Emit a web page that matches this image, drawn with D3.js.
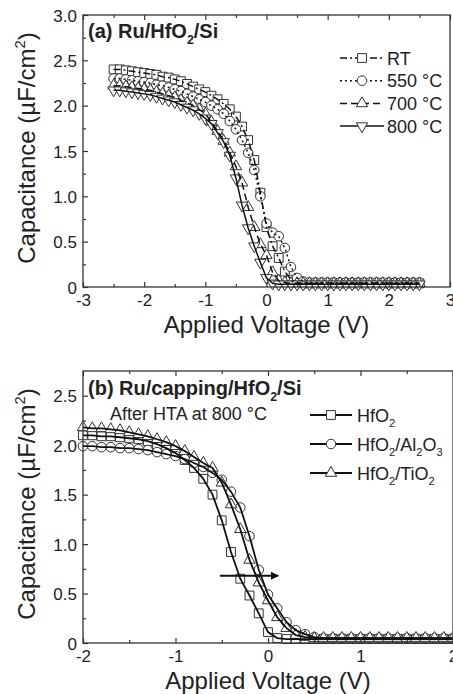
<!DOCTYPE html>
<html>
<head>
<meta charset="utf-8">
<script src="https://cdn.jsdelivr.net/npm/d3@7"></script>
<style>
  body { margin: 0; background: #fff; }
  svg text { font-family: 'Liberation Sans', Arial, sans-serif; fill: #222; }
</style>
</head>
<body>
<div id="chart"></div>
<script>
// ---- data ----
var topV = [-2.5, -2.4, -2.3, -2.2, -2.1, -2.0, -1.9, -1.8, -1.7, -1.6, -1.5, -1.4, -1.3, -1.2, -1.1, -1.0,
    -0.9, -0.8, -0.7, -0.6, -0.5, -0.4, -0.3, -0.2, -0.1, 0.0, 0.1, 0.2, 0.3, 0.4, 0.5,
    0.6, 0.7, 0.8, 0.9, 1.0, 1.1, 1.2, 1.3, 1.4, 1.5, 1.6, 1.7, 1.8, 1.9, 2.0, 2.1, 2.2, 2.3, 2.4, 2.5];
var capRT = [2.40, 2.40, 2.39, 2.38, 2.37, 2.36, 2.35, 2.34, 2.32, 2.31, 2.29, 2.27, 2.24, 2.21, 2.18, 2.15,
    2.11, 2.07, 2.02, 1.96, 1.88, 1.77, 1.62, 1.40, 1.04, 0.66, 0.45, 0.32, 0.17, 0.08, 0.05,
    0.04, 0.04, 0.04, 0.04, 0.04, 0.04, 0.04, 0.04, 0.04, 0.04, 0.04, 0.04, 0.04, 0.04, 0.04, 0.04, 0.04, 0.04, 0.04, 0.04];
var cap550 = [2.30, 2.30, 2.29, 2.28, 2.27, 2.26, 2.25, 2.23, 2.22, 2.20, 2.18, 2.16, 2.13, 2.10, 2.07, 2.04,
    2.00, 1.96, 1.91, 1.83, 1.74, 1.62, 1.48, 1.29, 1.00, 0.70, 0.60, 0.56, 0.43, 0.22, 0.10,
    0.06, 0.05, 0.05, 0.05, 0.05, 0.05, 0.05, 0.05, 0.05, 0.05, 0.05, 0.05, 0.05, 0.05, 0.05, 0.05, 0.05, 0.05, 0.05, 0.05];
var cap700 = [2.22, 2.22, 2.21, 2.20, 2.19, 2.18, 2.17, 2.15, 2.13, 2.11, 2.09, 2.06, 2.03, 2.00, 1.96, 1.91,
    1.82, 1.72, 1.61, 1.48, 1.33, 1.15, 0.88, 0.66, 0.47, 0.35, 0.16, 0.07, 0.05, 0.04, 0.04,
    0.04, 0.04, 0.04, 0.04, 0.04, 0.04, 0.04, 0.04, 0.04, 0.04, 0.04, 0.04, 0.04, 0.04, 0.04, 0.04, 0.04, 0.04, 0.04, 0.04];
var cap800 = [2.17, 2.17, 2.16, 2.15, 2.14, 2.13, 2.12, 2.10, 2.08, 2.06, 2.04, 2.01, 1.98, 1.95, 1.91, 1.86,
    1.80, 1.70, 1.60, 1.45, 1.20, 0.90, 0.65, 0.45, 0.27, 0.10, 0.04, 0.03, 0.03, 0.03, 0.03,
    0.03, 0.03, 0.03, 0.03, 0.03, 0.03, 0.03, 0.03, 0.03, 0.03, 0.03, 0.03, 0.03, 0.03, 0.03, 0.03, 0.03, 0.03, 0.03, 0.03];

var botV = [-2.0, -1.9, -1.8, -1.7, -1.6, -1.5, -1.4, -1.3, -1.2, -1.1, -1.0, -0.9, -0.8, -0.7, -0.6, -0.5,
    -0.4, -0.3, -0.2, -0.1, 0.0, 0.1, 0.2, 0.3, 0.4, 0.5, 0.6, 0.7, 0.8, 0.9, 1.0,
    1.1, 1.2, 1.3, 1.4, 1.5, 1.6, 1.7, 1.8, 1.9, 2.0];
var capHfO2 = [2.10, 2.10, 2.09, 2.09, 2.08, 2.07, 2.06, 2.04, 2.01, 1.97, 1.92, 1.85, 1.77, 1.66, 1.50, 1.24,
    0.92, 0.65, 0.48, 0.30, 0.11, 0.05, 0.04, 0.04, 0.04, 0.04, 0.04, 0.04, 0.04, 0.04, 0.04,
    0.04, 0.04, 0.04, 0.04, 0.04, 0.04, 0.04, 0.04, 0.04, 0.04];
var capAl2O3 = [1.99, 1.99, 1.98, 1.98, 1.97, 1.97, 1.96, 1.95, 1.93, 1.91, 1.89, 1.86, 1.82, 1.78, 1.72, 1.65,
    1.53, 1.37, 1.08, 0.74, 0.49, 0.35, 0.21, 0.13, 0.09, 0.06, 0.05, 0.05, 0.05, 0.05, 0.05,
    0.05, 0.05, 0.05, 0.05, 0.05, 0.05, 0.05, 0.05, 0.05, 0.05];
var capTiO2 = [2.18, 2.17, 2.17, 2.16, 2.15, 2.13, 2.11, 2.09, 2.06, 2.03, 1.99, 1.94, 1.88, 1.82, 1.77, 1.62,
    1.40, 1.15, 0.84, 0.61, 0.43, 0.26, 0.15, 0.08, 0.06, 0.05, 0.05, 0.05, 0.05, 0.05, 0.05,
    0.05, 0.05, 0.05, 0.05, 0.05, 0.05, 0.05, 0.05, 0.05, 0.05];

var topXTicks = [-3, -2, -1, 0, 1, 2, 3];
var topYTicks = [0, 0.5, 1.0, 1.5, 2.0, 2.5, 3.0];
var botXTicks = [-2, -1, 0, 1, 2];
var botYTicks = [0, 0.5, 1.0, 1.5, 2.0, 2.5];
var shiftArrowV = [-0.52, 0.11];
var shiftArrowC = 0.68;

var width = 453, height = 694;

var svg = d3.select("#chart")
    .append("svg")
    .attr("width", width)
    .attr("height", height);

// text with sub/superscripts
function richText(g, x, y, parts, size, weight, anchor) {
    var t = g.append("text")
        .attr("x", x).attr("y", y)
        .style("font-size", size + "px")
        .style("font-weight", weight || "normal")
        .attr("text-anchor", anchor || "start");
    var shift = 0;
    parts.forEach(function (p) {
        var s = p[0], kind = p[1] || "n";
        var target = kind === "sub" ? size * 0.3 : kind === "sup" ? -size * 0.42 : 0;
        t.append("tspan")
            .attr("dy", target - shift)
            .style("font-size", (kind === "n" ? size : size * 0.62) + "px")
            .text(s);
        shift = target;
    });
    return t;
}

function markerPath(type) {
    if (type === "square") return d3.symbol(d3.symbolSquare, 78)();
    if (type === "circle") return d3.symbol(d3.symbolCircle, 72)();
    return d3.symbol(d3.symbolTriangle, 56)();
}

function drawMarker(g, type, x, y) {
    g.append("path")
        .attr("d", markerPath(type))
        .attr("transform", "translate(" + x + "," + y + ")" + (type === "down" ? " rotate(180)" : ""))
        .attr("fill", "#fff")
        .attr("stroke", "#333")
        .attr("stroke-width", 1);
}

function drawPanel(cfg) {
    var x = d3.scaleLinear().domain(cfg.xDomain).range([83, cfg.right]);
    var y = d3.scaleLinear().domain(cfg.yDomain).range([cfg.bottom, cfg.top]);
    var g = svg.append("g");
    var fmtX = function (d) { return String(d); };
    var fmtY = function (d) { return d === 0 ? "0" : d3.format(".1f")(d); };

    // series: markers, then lines over them
    cfg.series.forEach(function (s) {
        var mg = g.append("g");
        s.values.forEach(function (c, i) {
            drawMarker(mg, s.marker, x(cfg.v[i]), y(c));
        });
    });
    cfg.series.forEach(function (s) {
        var line = d3.line()
            .x(function (d, i) { return x(cfg.v[i]); })
            .y(function (d) { return y(d); });
        g.append("path")
            .datum(s.values)
            .attr("d", line)
            .attr("fill", "none")
            .attr("stroke", "#111")
            .attr("stroke-width", cfg.lineWidth)
            .attr("stroke-dasharray", s.dash || null);
    });

    // frame
    g.append("rect")
        .attr("x", x.range()[0]).attr("y", cfg.top)
        .attr("width", x.range()[1] - x.range()[0])
        .attr("height", cfg.bottom - cfg.top)
        .attr("fill", "none")
        .attr("stroke", "#333")
        .attr("stroke-width", 1.3);

    // axes with inward ticks
    var xAx = g.append("g").attr("transform", "translate(0," + cfg.bottom + ")")
        .call(d3.axisBottom(x).tickValues(cfg.xTicks).tickSizeInner(-5).tickSizeOuter(0).tickPadding(7).tickFormat(fmtX));
    var xMinor = g.append("g").attr("transform", "translate(0," + cfg.bottom + ")")
        .call(d3.axisBottom(x).tickValues(cfg.xMinor).tickSizeInner(-3).tickSizeOuter(0).tickFormat(""));
    var xTop = g.append("g").attr("transform", "translate(0," + cfg.top + ")")
        .call(d3.axisTop(x).tickValues(cfg.xTicks).tickSizeInner(-5).tickSizeOuter(0).tickFormat(""));
    var xTopMinor = g.append("g").attr("transform", "translate(0," + cfg.top + ")")
        .call(d3.axisTop(x).tickValues(cfg.xMinor).tickSizeInner(-3).tickSizeOuter(0).tickFormat(""));
    var yAx = g.append("g").attr("transform", "translate(83,0)")
        .call(d3.axisLeft(y).tickValues(cfg.yTicks).tickSizeInner(-5).tickSizeOuter(0).tickPadding(6).tickFormat(fmtY));
    var yMinor = g.append("g").attr("transform", "translate(83,0)")
        .call(d3.axisLeft(y).tickValues(cfg.yMinor).tickSizeInner(-3).tickSizeOuter(0).tickFormat(""));

    [xAx, xMinor, xTop, xTopMinor, yAx, yMinor].forEach(function (a) {
        a.select(".domain").remove();
        a.selectAll("line").attr("stroke", "#333").attr("stroke-width", 1.2);
        a.selectAll("text").style("font-size", "17px").attr("fill", "#222")
            .style("font-family", "'Liberation Sans', Arial, sans-serif");
    });
    yAx.selectAll("text").attr("dy", "0.36em");

    // axis titles
    g.append("text")
        .attr("x", x(0)).attr("y", cfg.bottom + 46)
        .attr("text-anchor", "middle")
        .style("font-size", "24px")
        .text("Applied Voltage (V)");
    var yt = g.append("g").attr("transform", "translate(35," + ((cfg.top + cfg.bottom) / 2 - 3) + ") rotate(-90)");
    richText(yt, 0, 0, [["Capacitance (\u00b5F/cm"], ["2", "sup"], [")"]], 24, "normal", "middle");

    // panel title
    richText(g, 88, cfg.top + cfg.titleDy, cfg.title, 20, "bold");

    return { g: g, x: x, y: y };
}

// ---- panel (a) ----
var pa = drawPanel({
    xDomain: [-3, 3], yDomain: [0, 3], right: 450, top: 15, bottom: 287,
    v: topV, xTicks: topXTicks, yTicks: topYTicks,
    xMinor: [-2.5, -1.5, -0.5, 0.5, 1.5, 2.5],
    yMinor: [0.25, 0.75, 1.25, 1.75, 2.25, 2.75],
    lineWidth: 1.5, titleDy: 23,
    title: [["(a) Ru/HfO"], ["2", "sub"], ["/Si"]],
    series: [
        { values: capRT, marker: "square", dash: "7,3,2,3" },
        { values: cap550, marker: "circle", dash: "2,3" },
        { values: cap700, marker: "up", dash: "7,4" },
        { values: cap800, marker: "down", dash: null }
    ]
});

var legA = [
    { marker: "square", dash: "7,3,2,3", label: "RT" },
    { marker: "circle", dash: "2,3", label: "550 \u00b0C" },
    { marker: "up", dash: "7,4", label: "700 \u00b0C" },
    { marker: "down", dash: null, label: "800 \u00b0C" }
];
legA.forEach(function (d, i) {
    var ly = 58 + i * 22.7;
    pa.g.append("line")
        .attr("x1", 340).attr("x2", 384).attr("y1", ly).attr("y2", ly)
        .attr("stroke", "#111").attr("stroke-width", 1.5)
        .attr("stroke-dasharray", d.dash);
    drawMarker(pa.g, d.marker, 362, ly);
    pa.g.append("text").attr("x", 387).attr("y", ly + 6.5)
        .style("font-size", "18px").text(d.label);
});

// ---- panel (b) ----
var pb = drawPanel({
    xDomain: [-2, 2], yDomain: [0, 2.75], right: 453, top: 371, bottom: 643,
    v: botV, xTicks: botXTicks, yTicks: botYTicks,
    xMinor: [-1.5, -0.5, 0.5, 1.5],
    yMinor: [0.25, 0.75, 1.25, 1.75, 2.25],
    lineWidth: 1.8, titleDy: 24,
    title: [["(b) Ru/capping/HfO"], ["2", "sub"], ["/Si"]],
    series: [
        { values: capHfO2, marker: "square" },
        { values: capAl2O3, marker: "circle" },
        { values: capTiO2, marker: "up" }
    ]
});

pb.g.append("text").attr("x", 110).attr("y", 420)
    .style("font-size", "18px").text("After HTA at 800 \u00b0C");

var legB = [
    { marker: "square", label: [["HfO"], ["2", "sub"]] },
    { marker: "circle", label: [["HfO"], ["2", "sub"], ["/Al"], ["2", "sub"], ["O"], ["3", "sub"]] },
    { marker: "up", label: [["HfO"], ["2", "sub"], ["/TiO"], ["2", "sub"]] }
];
legB.forEach(function (d, i) {
    var ly = 415 + i * 29;
    pb.g.append("line")
        .attr("x1", 310).attr("x2", 352).attr("y1", ly).attr("y2", ly)
        .attr("stroke", "#111").attr("stroke-width", 1.8);
    drawMarker(pb.g, d.marker, 331, ly);
    richText(pb.g, 357, ly + 6.5, d.label, 18, "normal");
});

// shift arrow
svg.append("defs").append("marker")
    .attr("id", "arrowhead")
    .attr("viewBox", "0 0 10 10").attr("refX", 9).attr("refY", 5)
    .attr("markerWidth", 5).attr("markerHeight", 4)
    .attr("orient", "auto")
    .append("path").attr("d", "M0,0 L10,5 L0,10 z").attr("fill", "#111");
pb.g.append("line")
    .attr("x1", pb.x(shiftArrowV[0])).attr("x2", pb.x(shiftArrowV[1]))
    .attr("y1", pb.y(shiftArrowC)).attr("y2", pb.y(shiftArrowC))
    .attr("stroke", "#111").attr("stroke-width", 2)
    .attr("marker-end", "url(#arrowhead)");
</script>
</body>
</html>
